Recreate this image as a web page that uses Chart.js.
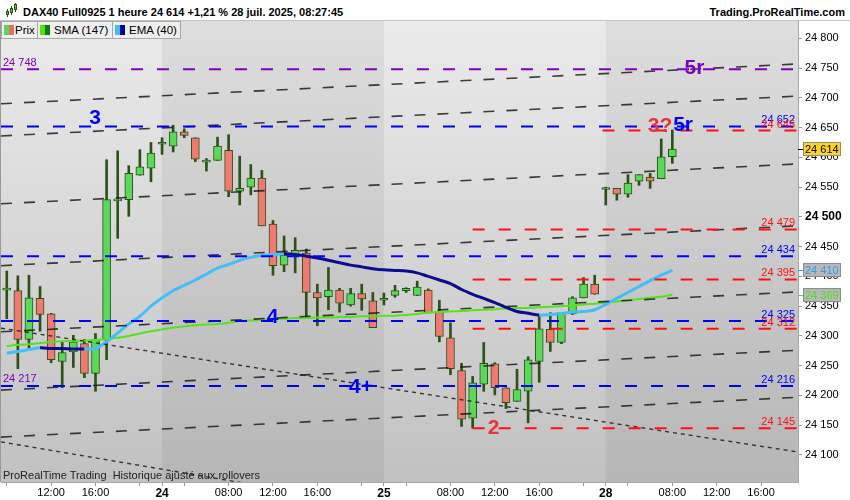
<!DOCTYPE html>
<html>
<head>
<meta charset="utf-8">
<script src="https://cdn.jsdelivr.net/npm/chart.js@4.4.1/dist/chart.umd.min.js"></script>
<style>
  html, body { margin: 0; padding: 0; background: #fff; }
  #box { position: relative; width: 850px; height: 500px; overflow: hidden; font-family: "Liberation Sans", Arial, sans-serif; }
  #chart-js { position: absolute; left: 0; top: 0; }
  #head { position: absolute; left: 0; top: 0; width: 850px; height: 20px; background: #fff; border-bottom: 1px solid #c4c4c4; }
  #ttl { position: absolute; left: 23px; top: 6px; font: bold 11px/13px "Liberation Sans", Arial, sans-serif; color: #000; white-space: nowrap; }
  #site { position: absolute; right: 5px; top: 6px; font: bold 11px/13px "Liberation Sans", Arial, sans-serif; color: #000; }
  #ico { position: absolute; left: 5px; top: 3px; width: 13px; height: 15px; }
  #ico i { position: absolute; width: 3px; background: #4cc94c; border: 1px solid #2c5216; box-sizing: border-box; }
  #ico b { position: absolute; width: 1px; background: #2c5216; }
  .leg { position: absolute; top: 21px; height: 18px; box-sizing: border-box; border: 1px solid #a8a8a8; background: #efefef;
         font: 11.5px/16px "Liberation Sans", Arial, sans-serif; color: #000; white-space: nowrap; }
  .sw { position: absolute; left: 2px; top: 3px; width: 10px; height: 10px; }
  .leg span.t { position: absolute; top: 0; }
  #foot { position: absolute; left: 3px; top: 469px; font: 11px/13px "Liberation Sans", Arial, sans-serif; color: #222; }
</style>
</head>
<body>
<div id="box">
  <canvas id="chart-js" width="850" height="500"></canvas>
  <div id="head">
    <span id="ico"><b style="left:2px;top:6px;height:8px"></b><i style="left:1px;top:8px;height:4px"></i><b style="left:6px;top:3px;height:9px"></b><i style="left:5px;top:5px;height:5px"></i><b style="left:10px;top:0;height:9px"></b><i style="left:9px;top:1px;height:6px"></i></span>
    <span id="ttl">DAX40 Full0925 1 heure 24 614 +1,21 % 28 juil. 2025, 08:27:45</span>
    <span id="site">Trading.ProRealTime.com</span>
  </div>
  <div class="leg" style="left:1px;width:37px"><span class="sw" style="background:linear-gradient(90deg,#58d858 50%,#e86c68 50%)"></span><span class="t" style="left:13px">Prix</span></div>
  <div class="leg" style="left:37px;width:76px"><span class="sw" style="background:linear-gradient(90deg,#4fe80a 50%,#0f7a0f 50%)"></span><span class="t" style="left:16px">SMA (147)</span></div>
  <div class="leg" style="left:112px;width:69px"><span class="sw" style="background:linear-gradient(90deg,#45bdf8 50%,#00009a 50%)"></span><span class="t" style="left:16px">EMA (40)</span></div>
  <div id="foot">ProRealTime Trading&nbsp; Historique ajusté aux rollovers</div>
</div>
<script>
// hourly candles: 23 juil. 08:00 -> 28 juil. 08:00 (index = position on the time axis)
const opens = [24377, 24376, 24294, 24363, 24337, 24257, 24273, 24287, 24237, 24293,
  24527, 24529, 24570, 24582, 24622, 24619, 24643, 24633, 24592, 24595,
  24612, 24543, 24550, 24565, 24488, 24419, 24436, 24439, 24373, 24366,
  24377, 24352, 24371, 24359, 24360, 24368, 24376, 24368, 24377, 24341,
  24297, 24242, 24162, 24219, 24253, 24213, 24190, 24207, 24257, 24311,
  24289, 24337, 24364, 24387, 24546, 24548, 24538, 24560, 24567, 24564, 24601];
const highs = [24409, 24401, 24402, 24383, 24338, 24291, 24301, 24294, 24304, 24596,
  24611, 24586, 24613, 24625, 24633, 24654, 24648, 24633, 24598, 24634,
  24638, 24602, 24588, 24578, 24494, 24468, 24465, 24446, 24387, 24415,
  24380, 24380, 24387, 24373, 24372, 24385, 24381, 24392, 24379, 24360,
  24322, 24254, 24232, 24289, 24255, 24213, 24244, 24265, 24335, 24339,
  24339, 24366, 24398, 24402, 24550, 24548, 24571, 24571, 24573, 24631, 24646];
const lows = [24329, 24245, 24280, 24308, 24255, 24213, 24247, 24230, 24207, 24260,
  24464, 24501, 24570, 24559, 24605, 24609, 24633, 24593, 24577, 24595,
  24534, 24520, 24537, 24485, 24402, 24408, 24406, 24329, 24317, 24344,
  24340, 24350, 24343, 24314, 24352, 24365, 24373, 24368, 24339, 24290,
  24235, 24148, 24145, 24207, 24201, 24178, 24190, 24154, 24222, 24274,
  24287, 24336, 24364, 24370, 24520, 24528, 24533, 24553, 24548, 24564, 24590];
const closes = [24377, 24294, 24364, 24336, 24260, 24272, 24290, 24237, 24294, 24529,
  24527, 24573, 24584, 24607, 24622, 24643, 24637, 24597, 24592, 24619,
  24543, 24548, 24565, 24485, 24418, 24436, 24444, 24373, 24364, 24377,
  24355, 24371, 24362, 24314, 24360, 24376, 24380, 24382, 24339, 24299,
  24245, 24160, 24221, 24254, 24213, 24188, 24210, 24260, 24312, 24289,
  24339, 24364, 24387, 24370, 24546, 24538, 24557, 24571, 24560, 24601, 24614];

const sma147 = [24283, 24285, 24286, 24288, 24290, 24291, 24292, 24292, 24293, 24295,
  24297, 24300, 24304, 24308, 24311, 24314, 24316, 24318, 24319, 24320,
  24322, 24325, 24326, 24327, 24328, 24329, 24330, 24330, 24331, 24331,
  24332, 24332, 24333, 24333, 24334, 24334, 24335, 24337, 24339, 24340,
  24341, 24342, 24343, 24344, 24345, 24346, 24347, 24347, 24348, 24349,
  24350, 24351, 24353, 24354, 24356, 24358, 24360, 24362, 24364, 24366, 24369];
const ema40 = [24271, 24274, 24277, 24280, 24279, 24279, 24278, 24278, 24279, 24290,
  24305, 24320, 24333, 24350, 24364, 24376, 24385, 24394, 24404, 24414,
  24420, 24427, 24432, 24435, 24437, 24438, 24437, 24434, 24431, 24427,
  24423, 24419, 24416, 24413, 24411, 24410, 24409, 24406, 24400, 24394,
  24388, 24378, 24370, 24363, 24356, 24348, 24341, 24338, 24335, 24336,
  24338, 24340, 24341, 24344, 24353, 24363, 24373, 24383, 24393, 24402, 24410];

// horizontal levels drawn on the chart
const levelValues = [24748, 24217, 24652, 24645, 24479, 24434, 24395, 24325, 24312, 24216, 24145];

// sloped lines: value at left edge, value at right edge
const channelLeft = [24690, 24636, 24522, 24418, 24307, 24209, 24130];
const channelRight = [24757, 24703, 24589, 24485, 24374, 24276, 24197];
const fallLeft = [24313, 24122];
const fallRight = [24105, 23895];

// axis ticks
const xTickPos = [0, 4, 8, 12, 14, 16, 20, 24, 28, 32, 34, 36, 40, 44, 48, 52, 54, 56, 60, 64, 68];
const xTickText = ['', '12:00', '16:00', '', '24', '', '08:00', '12:00', '16:00', '', '25', '',
  '08:00', '12:00', '16:00', '', '28', '', '08:00', '12:00', '16:00'];
const dayStarts = [14, 34, 54];
const yTickValues = [24100, 24150, 24200, 24250, 24300, 24350, 24400, 24450, 24500,
  24550, 24600, 24650, 24700, 24750, 24800];

// text marks on the chart
const noteText = ['3', '4', '4+', '2', '3?', '5r', '5r'];
const noteX = [7.96, 23.96, 31.94, 43.88, 58.89, 60.97, 62.0];
const noteY = [24666, 24331, 24214, 24145, 24652, 24654, 24749];

// ---- look ----
const X_MIN = -0.52, X_MAX = 71.33;
const Y_MIN = 24054.6, Y_MAX = 24829.1;
const BLUE = '#0000ff', RED = '#ff1010', PINK = '#e8323c', PURPLE = '#8000c0';
const UP = '#5ad85a', DOWN = '#f07a72', EDGE = '#2c5216';
const EMA_UP = '#45bdf8', EMA_DOWN = '#0c0c90', SMA_COL = '#55e31a';
const FONT = '"Liberation Sans", Arial, sans-serif';

const levelLook = [
  { color: PURPLE, from: X_MIN, side: 'left' },
  { color: PURPLE, from: null, side: 'left' },
  { color: BLUE, from: X_MIN, side: 'right' },
  { color: RED, from: 53.7, side: 'right' },
  { color: RED, from: 42, side: 'right' },
  { color: BLUE, from: X_MIN, side: 'right' },
  { color: RED, from: 42, side: 'right' },
  { color: BLUE, from: X_MIN, side: 'right' },
  { color: RED, from: 42, side: 'right' },
  { color: BLUE, from: X_MIN, side: 'right' },
  { color: RED, from: 42, side: 'right' },
];
const noteColor = [BLUE, BLUE, BLUE, PINK, PINK, BLUE, PURPLE];

const fmt = (v) => String(Math.round(v)).replace(/\B(?=(\d{3})+(?!\d))/g, ' ');

Chart.defaults.font.family = FONT;

const wickData = lows.map((lo, i) => ({ x: i, y: [lo, highs[i]] }));
const bodyData = opens.map((o, i) => ({ x: i, y: [o, closes[i]] }));

const datasets = [
  {
    type: 'bar', data: wickData, order: 20, grouped: false,
    barThickness: 2, backgroundColor: EDGE, borderWidth: 0,
  },
  {
    type: 'bar', data: bodyData, order: 19, grouped: false,
    barThickness: 8, minBarLength: 2, borderSkipped: false,
    borderWidth: 1, borderColor: EDGE,
    backgroundColor: (c) => (closes[c.dataIndex] < opens[c.dataIndex] ? DOWN : UP),
  },
  {
    type: 'line', data: sma147.map((v, i) => ({ x: i, y: v })), order: 12,
    borderColor: SMA_COL, borderWidth: 2, pointRadius: 0, tension: 0.3,
  },
  {
    type: 'line', data: ema40.map((v, i) => ({ x: i, y: v })), order: 11,
    borderColor: EMA_UP, borderWidth: 3, pointRadius: 0, tension: 0.3,
    segment: { borderColor: (c) => (c.p1.parsed.y > c.p0.parsed.y ? EMA_UP : EMA_DOWN) },
  },
];

channelLeft.forEach((v, i) => {
  datasets.push({
    type: 'line', data: [{ x: X_MIN, y: v }, { x: X_MAX, y: channelRight[i] }], order: 5,
    borderColor: 'rgba(28,28,28,0.85)', borderWidth: 1.6, borderDash: [11, 12], pointRadius: 0,
  });
});
fallLeft.forEach((v, i) => {
  datasets.push({
    type: 'line', data: [{ x: X_MIN, y: v }, { x: X_MAX, y: fallRight[i] }], order: 5,
    borderColor: 'rgba(28,28,28,0.85)', borderWidth: 1.4, borderDash: [4, 4], pointRadius: 0,
  });
});
levelValues.forEach((v, i) => {
  const look = levelLook[i];
  if (look.from === null) return;
  datasets.push({
    type: 'line', data: [{ x: look.from, y: v }, { x: X_MAX, y: v }], order: 3,
    borderColor: look.color, borderWidth: 2, borderDash: [12, 14], pointRadius: 0,
  });
});

const backdrop = {
  id: 'backdrop',
  beforeDraw(chart) {
    const { ctx, chartArea: a, scales: { x } } = chart;
    ctx.save();
    ctx.fillStyle = '#fff';
    ctx.fillRect(0, 0, chart.width, chart.height);
    const g = ctx.createLinearGradient(0, a.top, 0, a.bottom);
    g.addColorStop(0, '#ebebeb');
    g.addColorStop(1, '#c1c1c1');
    ctx.fillStyle = g;
    ctx.fillRect(a.left, a.top, a.width, a.height);
    ctx.fillStyle = 'rgba(0,0,0,0.055)';
    for (let k = 0; k < dayStarts.length; k += 2) {
      const l = x.getPixelForValue(dayStarts[k]);
      const r = k + 1 < dayStarts.length ? x.getPixelForValue(dayStarts[k + 1]) : a.right;
      ctx.fillRect(l, a.top, r - l, a.height);
    }
    ctx.strokeStyle = '#9a9a9a';
    ctx.lineWidth = 1;
    ctx.beginPath();
    ctx.moveTo(0.5, a.top);
    ctx.lineTo(0.5, a.bottom);
    ctx.stroke();
    ctx.restore();
  },
};

const notes = {
  id: 'notes',
  afterDatasetsDraw(chart) {
    const { ctx, chartArea: a, scales: { x, y } } = chart;
    ctx.save();
    ctx.font = '11px ' + FONT;
    ctx.textBaseline = 'alphabetic';
    levelValues.forEach((v, i) => {
      const look = levelLook[i];
      const py = y.getPixelForValue(v);
      ctx.fillStyle = look.color;
      if (look.side === 'left') {
        ctx.textAlign = 'left';
        ctx.fillText(fmt(v), a.left + 2, py - 3);
      } else {
        ctx.textAlign = 'right';
        ctx.fillText(fmt(v), a.right - 3, py - 3);
      }
    });
    ctx.font = 'bold 21px ' + FONT;
    ctx.textAlign = 'center';
    ctx.textBaseline = 'middle';
    noteText.forEach((t, i) => {
      ctx.fillStyle = noteColor[i];
      ctx.fillText(t, x.getPixelForValue(noteX[i]), y.getPixelForValue(noteY[i]));
    });
    ctx.restore();
  },
  afterDraw(chart) {
    const { ctx, chartArea: a, scales: { y } } = chart;
    const tags = [
      { v: sma147[sma147.length - 1], bg: '#b8b8b8', fg: '#4fe01a' },
      { v: ema40[ema40.length - 1], bg: '#b8b8b8', fg: '#2e9fe6' },
      { v: closes[closes.length - 1], bg: '#ffd21f', fg: '#000' },
    ];
    ctx.save();
    ctx.font = '11px ' + FONT;
    ctx.textAlign = 'left';
    ctx.textBaseline = 'middle';
    tags.forEach((t) => {
      const py = Math.round(y.getPixelForValue(t.v));
      ctx.fillStyle = t.fg;
      ctx.fillRect(a.right, py, 5, 1);
      ctx.fillStyle = t.bg;
      ctx.fillRect(a.right + 5, py - 7, 38, 14);
      ctx.strokeStyle = '#8c8c8c';
      ctx.strokeRect(a.right + 5.5, py - 6.5, 37, 13);
      ctx.fillStyle = t.fg;
      ctx.fillText(fmt(t.v), a.right + 7, py + 0.5);
    });
    ctx.restore();
  },
};

new Chart(document.getElementById('chart-js'), {
  type: 'bar',
  data: { datasets },
  options: {
    responsive: false,
    animation: false,
    events: [],
    layout: { padding: { top: 21, left: 1, right: 0, bottom: 0 } },
    plugins: { legend: { display: false }, tooltip: { enabled: false } },
    scales: {
      x: {
        type: 'linear', min: X_MIN, max: X_MAX, offset: false,
        afterBuildTicks: (s) => { s.ticks = xTickPos.map((v) => ({ value: v })); },
        afterFit: (s) => { s.height = 18; },
        grid: { drawOnChartArea: false, tickLength: 4, color: '#9a9a9a', offset: false },
        border: { color: '#a8a8a8' },
        ticks: {
          autoSkip: false, maxRotation: 0, padding: 0, color: '#000',
          callback: (v) => xTickText[xTickPos.indexOf(v)],
          font: (c) => (dayStarts.includes(c.tick && c.tick.value)
            ? { size: 12, weight: 'bold' } : { size: 11 }),
        },
      },
      y: {
        type: 'linear', position: 'right', min: Y_MIN, max: Y_MAX,
        afterBuildTicks: (s) => { s.ticks = yTickValues.map((v) => ({ value: v })); },
        afterFit: (s) => { s.width = 52; },
        grid: { drawOnChartArea: false, tickLength: 4, color: '#9a9a9a' },
        border: { color: '#a8a8a8' },
        ticks: {
          padding: 3, color: '#000',
          callback: (v) => fmt(v),
          font: (c) => (c.tick && c.tick.value === 24500
            ? { size: 12, weight: 'bold' } : { size: 11 }),
        },
      },
    },
  },
  plugins: [backdrop, notes],
});
</script>
</body>
</html>
